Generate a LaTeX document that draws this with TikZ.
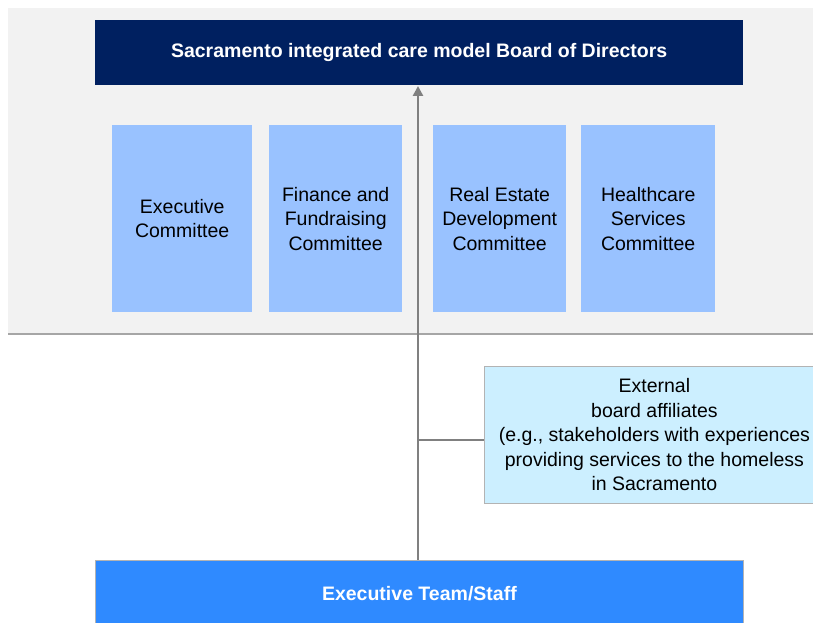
\documentclass[tikz,border=0pt]{standalone}
\usepackage{fontspec}
\setmainfont{Liberation Sans}
\usetikzlibrary{arrows.meta}
\definecolor{navy}{HTML}{002060}
\definecolor{comm}{HTML}{99C2FF}
\definecolor{extc}{HTML}{CCEFFF}
\definecolor{execc}{HTML}{2F8AFF}
\definecolor{bgc}{HTML}{F2F2F2}
\definecolor{linec}{HTML}{808080}
\tikzset{
  box/.style={draw=none, inner sep=0pt, anchor=north west},
  commbox/.style={box, fill=comm, align=center, font=\fontsize{19.5}{24.5}\selectfont},
  boldbox/.style={box, text=white, font=\fontsize{19.5}{22}\selectfont\bfseries},
  conn/.style={draw=linec, line width=2.6pt},
}
\begin{document}
\begin{tikzpicture}[x=1pt,y=-1pt]
\useasboundingbox (0,0) rectangle (813,623);
\fill[bgc] (8,8) rectangle (813,334);
\draw[linec!70, line width=1.5pt] (8,334) -- (813,334);
\node[boldbox, fill=navy, minimum width=648pt, minimum height=65pt] (board) at (95,20) {Sacramento integrated care model Board of Directors};
\node[commbox, minimum width=140pt, minimum height=187pt] (c1) at (112,125) {Executive\\Committee};
\node[commbox, minimum width=133pt, minimum height=187pt] (c2) at (269,125) {Finance and\\Fundraising\\Committee};
\node[commbox, minimum width=133pt, minimum height=187pt] (c3) at (433,125) {Real Estate\\Development\\Committee};
\node[commbox, minimum width=134pt, minimum height=187pt] (c4) at (581,125) {Healthcare\\Services\\Committee};
\node[box, fill=extc, draw=linec!60, line width=0.8pt, align=center, minimum width=340pt, minimum height=137pt, font=\fontsize{19.5}{24.5}\selectfont] (ext) at (484,366) {External\\board affiliates\\(e.g., stakeholders with experiences\\providing services to the homeless\\in Sacramento};
\node[boldbox, fill=execc, draw=linec!60, line width=0.8pt, minimum width=648pt, minimum height=66pt] (exec) at (95,560) {Executive Team/Staff};
\coordinate (top) at (418,86);
\coordinate (bot) at (418,560);
\coordinate (br) at (418,440);
\draw[conn, -{Triangle[width=10pt,length=10pt]}] (bot) -- (top);
\draw[conn, line width=1.8pt] (br) -- (br -| ext.west);
\end{tikzpicture}
\end{document}
